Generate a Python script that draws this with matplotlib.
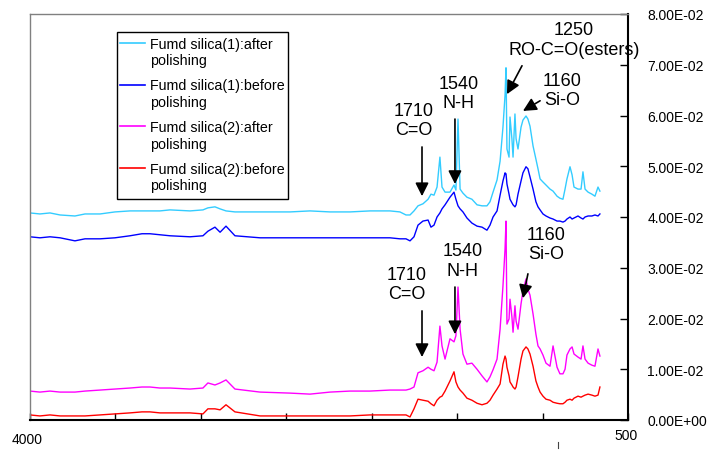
import matplotlib
matplotlib.use("Agg")
import matplotlib.pyplot as plt
from matplotlib.lines import Line2D
from matplotlib.patches import Rectangle
import numpy as np

plt.rcParams['font.family'] = ['Liberation Sans', 'DejaVu Sans']

# wavenumber (cm-1) of the sampled points, shared by all four spectra
wavenumber = [4000, 3938, 3875, 3812, 3719, 3656, 3562, 3469, 3375, 3300,
              3250, 3188, 3125, 3000, 2919, 2888, 2844, 2812, 2775, 2719,
              2562, 2375, 2250, 2125, 2000, 1875, 1750, 1688, 1650, 1625,
              1600, 1575, 1544, 1512, 1494, 1475, 1456, 1438, 1425, 1406,
              1375, 1350, 1338, 1325, 1312, 1294, 1269, 1238, 1206, 1175,
              1144, 1125, 1106, 1081, 1062, 1044, 1031, 1025, 1019, 1006,
              1000, 988, 981, 969, 962, 950, 931, 919, 900, 888,
              875, 856, 838, 825, 812, 794, 775, 750, 731, 706,
              688, 669, 656, 644, 625, 612, 600, 575, 556, 544,
              531, 512, 488, 469, 450, 438]

# Fumd silica(1) after polishing
fs1_after = [0.0408, 0.0406, 0.0408, 0.0404, 0.0402, 0.0406, 0.0406, 0.0410, 0.0412, 0.0412,
             0.0412, 0.0412, 0.0414, 0.0412, 0.0414, 0.0418, 0.0420, 0.0416, 0.0412, 0.0410,
             0.0410, 0.0410, 0.0412, 0.0410, 0.0410, 0.0412, 0.0412, 0.0410, 0.0404, 0.0404,
             0.0412, 0.0422, 0.0426, 0.0435, 0.0445, 0.0443, 0.0459, 0.0518, 0.0459, 0.0449,
             0.0449, 0.0463, 0.0453, 0.0593, 0.0455, 0.0447, 0.0439, 0.0435, 0.0424, 0.0422,
             0.0422, 0.0430, 0.0449, 0.0473, 0.0510, 0.0577, 0.0640, 0.0694, 0.0534, 0.0518,
             0.0597, 0.0554, 0.0518, 0.0603, 0.0554, 0.0534, 0.0577, 0.0591, 0.0599, 0.0593,
             0.0579, 0.0540, 0.0514, 0.0495, 0.0475, 0.0469, 0.0463, 0.0455, 0.0451, 0.0441,
             0.0437, 0.0435, 0.0455, 0.0475, 0.0499, 0.0483, 0.0459, 0.0455, 0.0455, 0.0489,
             0.0455, 0.0449, 0.0445, 0.0441, 0.0459, 0.0451]

# Fumd silica(1) before polishing
fs1_before = [0.0361, 0.0359, 0.0361, 0.0359, 0.0353, 0.0357, 0.0357, 0.0359, 0.0363, 0.0367,
              0.0367, 0.0365, 0.0363, 0.0361, 0.0363, 0.0372, 0.0380, 0.0370, 0.0382, 0.0363,
              0.0359, 0.0359, 0.0359, 0.0359, 0.0359, 0.0359, 0.0359, 0.0357, 0.0357, 0.0353,
              0.0361, 0.0384, 0.0392, 0.0394, 0.0380, 0.0384, 0.0400, 0.0408, 0.0416, 0.0424,
              0.0439, 0.0449, 0.0435, 0.0422, 0.0416, 0.0410, 0.0398, 0.0388, 0.0382, 0.0380,
              0.0374, 0.0384, 0.0400, 0.0412, 0.0443, 0.0471, 0.0487, 0.0485, 0.0465, 0.0445,
              0.0435, 0.0428, 0.0424, 0.0420, 0.0424, 0.0445, 0.0471, 0.0487, 0.0499, 0.0495,
              0.0479, 0.0455, 0.0430, 0.0420, 0.0414, 0.0406, 0.0402, 0.0398, 0.0396, 0.0392,
              0.0392, 0.0390, 0.0392, 0.0396, 0.0400, 0.0396, 0.0398, 0.0402, 0.0398, 0.0396,
              0.0400, 0.0402, 0.0402, 0.0404, 0.0402, 0.0406]

# Fumd silica(2) after polishing
fs2_after = [0.0057, 0.0055, 0.0057, 0.0055, 0.0055, 0.0057, 0.0059, 0.0061, 0.0063, 0.0065,
             0.0065, 0.0063, 0.0063, 0.0061, 0.0063, 0.0073, 0.0069, 0.0073, 0.0079, 0.0061,
             0.0055, 0.0053, 0.0051, 0.0055, 0.0057, 0.0057, 0.0059, 0.0059, 0.0059, 0.0061,
             0.0065, 0.0093, 0.0097, 0.0104, 0.0100, 0.0097, 0.0114, 0.0185, 0.0146, 0.0120,
             0.0160, 0.0154, 0.0166, 0.0262, 0.0179, 0.0130, 0.0110, 0.0112, 0.0100, 0.0087,
             0.0075, 0.0085, 0.0099, 0.0120, 0.0179, 0.0264, 0.0337, 0.0392, 0.0189, 0.0199,
             0.0238, 0.0203, 0.0173, 0.0225, 0.0195, 0.0179, 0.0229, 0.0254, 0.0278, 0.0258,
             0.0246, 0.0209, 0.0169, 0.0146, 0.0140, 0.0128, 0.0112, 0.0106, 0.0146, 0.0104,
             0.0091, 0.0091, 0.0100, 0.0128, 0.0140, 0.0144, 0.0130, 0.0124, 0.0120, 0.0146,
             0.0120, 0.0112, 0.0108, 0.0106, 0.0140, 0.0126]

# Fumd silica(2) before polishing
fs2_before = [0.0010, 0.0008, 0.0010, 0.0008, 0.0008, 0.0008, 0.0010, 0.0012, 0.0014, 0.0016,
              0.0016, 0.0014, 0.0014, 0.0014, 0.0012, 0.0022, 0.0022, 0.0020, 0.0030, 0.0016,
              0.0008, 0.0008, 0.0008, 0.0008, 0.0008, 0.0010, 0.0010, 0.0010, 0.0010, 0.0006,
              0.0022, 0.0041, 0.0039, 0.0037, 0.0032, 0.0028, 0.0039, 0.0045, 0.0047, 0.0057,
              0.0077, 0.0095, 0.0075, 0.0065, 0.0059, 0.0053, 0.0043, 0.0039, 0.0033, 0.0030,
              0.0033, 0.0039, 0.0049, 0.0061, 0.0071, 0.0110, 0.0126, 0.0120, 0.0104, 0.0087,
              0.0075, 0.0069, 0.0065, 0.0061, 0.0065, 0.0085, 0.0120, 0.0136, 0.0144, 0.0140,
              0.0130, 0.0106, 0.0077, 0.0065, 0.0055, 0.0047, 0.0041, 0.0039, 0.0035, 0.0033,
              0.0032, 0.0032, 0.0035, 0.0039, 0.0041, 0.0039, 0.0043, 0.0047, 0.0045, 0.0047,
              0.0049, 0.0051, 0.0049, 0.0047, 0.0049, 0.0065]

labels = ["Fumd silica(1):after\npolishing",
          "Fumd silica(1):before\npolishing",
          "Fumd silica(2):after\npolishing",
          "Fumd silica(2):before\npolishing"]
colors = ["#33CCFF", "#0000FF", "#FF00FF", "#FF0000"]
series = [fs1_after, fs1_before, fs2_after, fs2_before]

yticks = [0.00, 0.01, 0.02, 0.03, 0.04, 0.05, 0.06, 0.07, 0.08]

# peak labels: text, text position, arrow start, arrow tip
peak_notes = [
    ("1710\nC=O", (1600, 0.0591), (1550, 0.0538), (1550, 0.0441)),
    ("1540\nN-H", (1319, 0.0644), (1344, 0.0593), (1344, 0.0465)),
    ("1250\nRO-C=O(esters)", (600, 0.0750), (925, 0.0698), (1019, 0.0642)),
    ("1160\nSi-O", (675, 0.0650), (812, 0.0629), (919, 0.0609)),
    ("1710\nC=O", (1644, 0.0268), (1550, 0.0215), (1550, 0.0124)),
    ("1540\nN-H", (1294, 0.0314), (1344, 0.0262), (1344, 0.0169)),
    ("1160\nSi-O", (775, 0.0347), (888, 0.0288), (919, 0.0240)),
]

W, H = 719, 452


def fx(px):
    return px / W


def fy(py):
    return 1 - py / H


fig = plt.figure(figsize=(W / 100, H / 100), dpi=100)
ax = fig.add_axes([fx(30), fy(421), fx(628) - fx(30), fy(15) - fy(421)])

for ys, c in zip(series, colors):
    ax.plot(wavenumber, ys, color=c, lw=1.0)

ax.set_xlim(4000, 262.5)
ax.set_ylim(0, 0.08)
ax.set_xticks(np.linspace(4000, 262.5, 8))
ax.set_xticklabels([])
ax.yaxis.tick_right()
ax.set_yticks(yticks)
ax.set_yticklabels([f"{v:.2E}" for v in yticks])
ax.tick_params(axis='y', direction='in', length=6, width=1, pad=14,
               labelsize=10, colors='black')
ax.tick_params(axis='x', direction='in', length=5, width=1)

for side in ['top', 'left']:
    ax.spines[side].set_color('#808080')
    ax.spines[side].set_linewidth(1.0)
for side in ['right', 'bottom']:
    ax.spines[side].set_color('black')
    ax.spines[side].set_linewidth(1.5)

for text, tpos, start, tip in peak_notes:
    ax.text(tpos[0], tpos[1], text, ha='center', va='center', fontsize=13,
            linespacing=1.2, clip_on=False)
    ax.annotate('', xy=tip, xytext=start,
                arrowprops=dict(arrowstyle='-|>,head_length=0.4,head_width=0.2',
                                color='black', lw=1.2, mutation_scale=20,
                                shrinkA=0, shrinkB=0))

# x axis end labels
fig.text(fx(27), fy(440), "4000", ha='center', va='center', fontsize=10)
fig.text(fx(626), fy(436), "500", ha='center', va='center', fontsize=10)
fig.add_artist(Line2D([fx(558), fx(558)], [fy(443), fy(449)],
                      transform=fig.transFigure, color='#444444', lw=0.8))

# legend box drawn in figure coordinates
fig.add_artist(Rectangle((fx(117), fy(200)), fx(288) - fx(117), fy(33) - fy(200),
                         transform=fig.transFigure, facecolor='white',
                         edgecolor='black', lw=1.0, zorder=5))
for i, (lab, c) in enumerate(zip(labels, colors)):
    yl = 44 + 41.7 * i
    fig.add_artist(Line2D([fx(120), fx(145)], [fy(yl), fy(yl)],
                          transform=fig.transFigure, color=c, lw=1.2, zorder=6))
    fig.text(fx(150), fy(yl + 9), lab, ha='left', va='center', fontsize=10.3,
             linespacing=1.25, zorder=6)

fig.savefig("out.png", dpi=100)
